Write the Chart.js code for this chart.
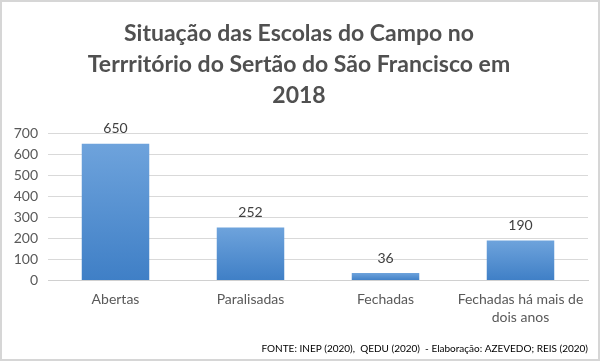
<!DOCTYPE html>
<html>
<head>
<meta charset="utf-8">
<script src="https://cdn.jsdelivr.net/npm/chart.js@4/dist/chart.umd.min.js"></script>
<style>
  html, body { margin: 0; padding: 0; background: #fff; }
  #wrap { width: 600px; height: 361px; box-sizing: border-box; border: 2px solid #d6d6d6; position: relative; }
  canvas { display: block; }
</style>
</head>
<body>
<div id="wrap"><canvas id="c" width="596" height="357"></canvas></div>
<script>
const titleLines = ["Situação das Escolas do Campo no", "Terrritório do Sertão do São Francisco em", "2018"];
const categories = ["Abertas", "Paralisadas", "Fechadas", ["Fechadas há mais de", "dois anos"]];
const values = [650, 252, 36, 190];
const yTicks = [0, 100, 200, 300, 400, 500, 600, 700];
const sourceNote = "FONTE: INEP (2020),  QEDU (2020)  - Elaboração: AZEVEDO; REIS (2020)";

const FONT = "Lato, 'Open Sans', sans-serif";

const valueLabels = {
  id: 'valueLabels',
  afterDatasetsDraw(chart) {
    const ctx = chart.ctx;
    const meta = chart.getDatasetMeta(0);
    ctx.save();
    ctx.font = "14px " + FONT;
    ctx.fillStyle = "#404040";
    ctx.textAlign = "center";
    ctx.textBaseline = "bottom";
    meta.data.forEach((el, i) => {
      ctx.fillText(String(values[i]), el.x, el.y - 8);
    });
    ctx.restore();
  }
};

new Chart(document.getElementById('c'), {
  type: 'bar',
  data: {
    labels: categories,
    datasets: [{
      data: values,
      backgroundColor(context) {
        const chart = context.chart;
        const area = chart.chartArea;
        if (!area || context.parsed == null) return '#5b9bd5';
        const ys = chart.scales.y;
        const top = ys.getPixelForValue(context.parsed.y);
        const base = ys.getPixelForValue(0);
        if (!isFinite(top) || !isFinite(base) || top === base) return '#5b9bd5';
        const g = chart.ctx.createLinearGradient(0, top, 0, base);
        g.addColorStop(0, '#6ea3dc');
        g.addColorStop(1, '#3f7fc6');
        return g;
      },
      borderWidth: 0,
      barPercentage: 0.5,
      categoryPercentage: 1.0
    }]
  },
  options: {
    responsive: false,
    animation: false,
    layout: { padding: { left: 8, right: 10, top: 0, bottom: 2 } },
    plugins: {
      legend: { display: false },
      tooltip: { enabled: false },
      title: {
        display: true,
        text: titleLines,
        color: '#505050',
        font: { family: FONT, size: 23, weight: 'bold', lineHeight: 1.35 },
        padding: { top: 16, bottom: 22 }
      },
      subtitle: {
        display: true,
        position: 'bottom',
        align: 'end',
        text: sourceNote,
        color: '#000',
        font: { family: FONT, size: 10 },
        padding: { top: 6, bottom: 2 }
      }
    },
    scales: {
      x: {
        grid: { display: false, drawTicks: false },
        border: { display: true, color: '#d0d0d0' },
        ticks: { color: '#595959', font: { family: FONT, size: 14, lineHeight: 1.3 }, padding: 10, maxRotation: 0, autoSkip: false }
      },
      y: {
        min: 0, max: 700,
        afterBuildTicks(scale) { scale.ticks = yTicks.map(v => ({ value: v })); },
        afterFit(scale) { scale.width = 38; },
        grid: { color: '#d9d9d9', drawTicks: false },
        border: { display: false },
        ticks: { color: '#595959', font: { family: FONT, size: 14 }, padding: 10 }
      }
    }
  },
  plugins: [valueLabels]
});
</script>
</body>
</html>
